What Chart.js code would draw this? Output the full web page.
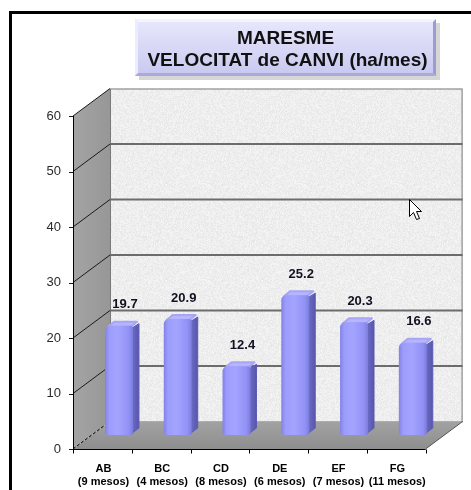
<!DOCTYPE html>
<html>
<head>
<meta charset="utf-8">
<script src="https://cdn.jsdelivr.net/npm/chart.js@4/dist/chart.umd.min.js"></script>
<style>
  html, body { margin: 0; padding: 0; background: #ffffff; }
  canvas { display: block; }
</style>
</head>
<body>
<canvas id="grafic" width="471" height="490"></canvas>
<script>
// Trams del període i durada de cada tram
const trams = ['AB', 'BC', 'CD', 'DE', 'EF', 'FG'];
const durades = ['(9 mesos)', '(4 mesos)', '(8 mesos)', '(6 mesos)', '(7 mesos)', '(11 mesos)'];
// Velocitat de canvi (ha/mes)
const velocitat = [19.7, 20.9, 12.4, 25.2, 20.3, 16.6];
// Marques de l'eix de valors
const valorsEix = [0, 10, 20, 30, 40, 50, 60];
const titol = ['MARESME', 'VELOCITAT de CANVI (ha/mes)'];

const FONT = '"Liberation Sans", Arial, sans-serif';
// Perspectiva: paret del fons i aresta frontal respecte del pla de les barres
const FRONT = { dx: -16.6, dy: 14 };
const BACK = { dx: 20.4, dy: -13.5 };
// Gruix aparent de cada barra
const BAR_DEPTH = { dx: 6, dy: -5 };
const BAR_FRACTION = 0.476;

// Textura granulada de la paret del fons
function granitPattern(ctx) {
  const n = 96;
  const off = document.createElement('canvas');
  off.width = n; off.height = n;
  const o = off.getContext('2d');
  const img = o.createImageData(n, n);
  for (let y = 0; y < n; y++) {
    for (let x = 0; x < n; x++) {
      let h = (x * 374761393 + y * 668265263) | 0;
      h = Math.imul(h ^ (h >>> 13), 1274126177);
      h = (h ^ (h >>> 16)) >>> 0;
      const v = 238 + Math.round(((h & 255) / 255 - 0.5) * 16);
      const i = (y * n + x) * 4;
      img.data[i] = v; img.data[i + 1] = v; img.data[i + 2] = v; img.data[i + 3] = 255;
    }
  }
  o.putImageData(img, 0, 0);
  return ctx.createPattern(off, 'repeat');
}

function poly(ctx, pts, fill, stroke, lw) {
  ctx.beginPath();
  ctx.moveTo(pts[0][0], pts[0][1]);
  for (let i = 1; i < pts.length; i++) ctx.lineTo(pts[i][0], pts[i][1]);
  ctx.closePath();
  if (fill) { ctx.fillStyle = fill; ctx.fill(); }
  if (stroke) { ctx.strokeStyle = stroke; ctx.lineWidth = lw || 1; ctx.stroke(); }
}

const escenari = {
  id: 'escenari',
  beforeDraw(chart) {
    const ctx = chart.ctx;
    ctx.save();
    ctx.fillStyle = '#ffffff';
    ctx.fillRect(0, 0, chart.width, chart.height);
    // marc
    ctx.fillStyle = '#000000';
    ctx.fillRect(9, 11, chart.width - 9, 3);
    ctx.fillRect(9, 11, 3, chart.height - 11);

    // caixa del títol
    const bx = 135, by = 19, bw = 301, bh = 57;
    ctx.fillStyle = 'rgba(0,0,0,0.16)';
    ctx.fillRect(bx + 4, by + 4, bw, bh);
    const g = ctx.createLinearGradient(0, by, 0, by + bh);
    g.addColorStop(0, '#e8e8fc');
    g.addColorStop(1, '#c8c8f0');
    ctx.fillStyle = g;
    ctx.fillRect(bx, by, bw, bh);
    const b = 3;
    poly(ctx, [[bx, by], [bx + bw, by], [bx + bw - b, by + b], [bx + b, by + b]], '#f4f4ff');
    poly(ctx, [[bx, by], [bx + b, by + b], [bx + b, by + bh - b], [bx, by + bh]], '#ececff');
    poly(ctx, [[bx + bw, by], [bx + bw, by + bh], [bx + bw - b, by + bh - b], [bx + bw - b, by + b]], '#9c9cd2');
    poly(ctx, [[bx, by + bh], [bx + bw, by + bh], [bx + bw - b, by + bh - b], [bx + b, by + bh - b]], '#a9a9da');
    ctx.fillStyle = '#111111';
    ctx.font = 'bold 19px ' + FONT;
    ctx.textAlign = 'center';
    ctx.textBaseline = 'middle';
    ctx.fillText(titol[0], bx + bw / 2, 39);
    ctx.fillText(titol[1], bx + bw / 2 + 2, 61);
    ctx.restore();
  },
  beforeDatasetsDraw(chart) {
    const ctx = chart.ctx;
    const ys = chart.scales.y;
    const a = chart.chartArea;
    const top = ys.getPixelForValue(valorsEix[valorsEix.length - 1]);
    const zero = ys.getPixelForValue(0);
    const fl = a.left + FRONT.dx, fr = a.right + FRONT.dx;
    const bl = a.left + BACK.dx, br = a.right + BACK.dx;
    ctx.save();

    // paret del fons
    ctx.fillStyle = granitPattern(ctx);
    ctx.fillRect(bl, top + BACK.dy, br - bl, zero - top);
    ctx.strokeStyle = '#7a7a7a';
    ctx.lineWidth = 1;
    ctx.strokeRect(bl + 0.5, top + BACK.dy + 0.5, br - bl - 1, zero - top);

    // paret lateral
    const lat = ctx.createLinearGradient(fl, 0, bl, 0);
    lat.addColorStop(0, '#a4a4a4');
    lat.addColorStop(1, '#979797');
    poly(ctx, [[fl, top + FRONT.dy], [bl, top + BACK.dy], [bl, zero + BACK.dy], [fl, zero + FRONT.dy]], lat);

    // línies de divisió
    valorsEix.forEach(v => {
      const y = ys.getPixelForValue(v);
      if (v > 0 && v < valorsEix[valorsEix.length - 1]) {
        ctx.strokeStyle = '#6c6c6c';
        ctx.lineWidth = 2;
        ctx.beginPath();
        ctx.moveTo(bl, y + BACK.dy);
        ctx.lineTo(br, y + BACK.dy);
        ctx.stroke();
      }
      ctx.strokeStyle = '#1a1a1a';
      ctx.lineWidth = 1;
      ctx.setLineDash(v === 0 ? [3, 2] : []);
      ctx.beginPath();
      ctx.moveTo(fl, y + FRONT.dy);
      ctx.lineTo(bl, y + BACK.dy);
      ctx.stroke();
      ctx.setLineDash([]);
      // marca a l'eix
      ctx.beginPath();
      ctx.moveTo(fl - 4, Math.round(y + FRONT.dy) + 0.5);
      ctx.lineTo(fl, Math.round(y + FRONT.dy) + 0.5);
      ctx.stroke();
    });

    // terra
    const terra = ctx.createLinearGradient(0, zero + BACK.dy, 0, zero + FRONT.dy);
    terra.addColorStop(0, '#a2a2a2');
    terra.addColorStop(1, '#8e8e8e');
    poly(ctx, [[fl, zero + FRONT.dy], [fr, zero + FRONT.dy], [br, zero + BACK.dy], [bl, zero + BACK.dy]], terra);
    ctx.strokeStyle = '#555555';
    ctx.beginPath();
    ctx.moveTo(fr, zero + FRONT.dy);
    ctx.lineTo(br, zero + BACK.dy);
    ctx.stroke();
    ctx.strokeStyle = '#1a1a1a';
    ctx.setLineDash([3, 2]);
    ctx.beginPath();
    ctx.moveTo(fl, zero + FRONT.dy);
    ctx.lineTo(bl, zero + BACK.dy);
    ctx.stroke();
    ctx.setLineDash([]);

    // eixos frontals
    ctx.strokeStyle = '#000000';
    ctx.lineWidth = 1;
    ctx.beginPath();
    ctx.moveTo(Math.round(fl) + 0.5, top + FRONT.dy);
    ctx.lineTo(Math.round(fl) + 0.5, zero + FRONT.dy);
    ctx.stroke();
    const yb = Math.round(zero + FRONT.dy) + 0.5;
    ctx.beginPath();
    ctx.moveTo(fl, yb);
    ctx.lineTo(fr, yb);
    ctx.stroke();
    const cw = (fr - fl) / trams.length;
    for (let i = 0; i <= trams.length; i++) {
      const x = Math.round(fl + i * cw) + 0.5;
      ctx.beginPath();
      ctx.moveTo(x, yb);
      ctx.lineTo(x, yb + 4);
      ctx.stroke();
    }

    // cares laterals i superiors de les barres
    const meta = chart.getDatasetMeta(0);
    meta.data.forEach(el => {
      const l = el.x - el.width / 2, r = el.x + el.width / 2;
      const t = el.y, bo = el.base;
      const side = ctx.createLinearGradient(r, 0, r + BAR_DEPTH.dx, 0);
      side.addColorStop(0, '#6a6ac4');
      side.addColorStop(1, '#5656aa');
      ctx.lineJoin = 'round';
      poly(ctx, [[r - 2, t + 3], [r + BAR_DEPTH.dx, t + BAR_DEPTH.dy + 3], [r + BAR_DEPTH.dx, bo + BAR_DEPTH.dy - 2], [r - 2, bo - 1]], side, '#5c5cb4', 1);
      poly(ctx, [[l + 3, t + 1], [l + 3 + BAR_DEPTH.dx, t + BAR_DEPTH.dy + 1], [r + BAR_DEPTH.dx - 2, t + BAR_DEPTH.dy + 1], [r - 2, t + 1]], '#b6b6ff', '#a6a6f4', 2);
    });
    ctx.restore();
  },
  afterDatasetsDraw(chart) {
    const ctx = chart.ctx;
    const meta = chart.getDatasetMeta(0);
    ctx.save();
    ctx.fillStyle = '#111122';
    ctx.font = 'bold 13px ' + FONT;
    ctx.textAlign = 'center';
    ctx.textBaseline = 'middle';
    meta.data.forEach((el, i) => {
      ctx.fillText(velocitat[i].toFixed(1), el.x + 6, el.y - 21);
    });

    // punter sobre la paret del fons
    const px = 409.5, py = 199.5;
    poly(ctx, [[px, py], [px, py + 17], [px + 4, py + 13], [px + 7, py + 20], [px + 10, py + 19], [px + 7, py + 12], [px + 12, py + 12]], '#ffffff', '#000000', 1);
    ctx.restore();
  }
};

new Chart(document.getElementById('grafic'), {
  type: 'bar',
  data: {
    labels: trams.map((t, i) => [t, durades[i]]),
    datasets: [{
      data: velocitat,
      categoryPercentage: 1,
      barPercentage: BAR_FRACTION,
      borderSkipped: false,
      borderRadius: { topLeft: 5, topRight: 3, bottomLeft: 3, bottomRight: 2 },
      borderWidth: 0,
      backgroundColor: (c) => {
        const chart = c.chart;
        const xs = chart.scales.x;
        if (!xs || c.type !== 'data' || !chart.chartArea) return '#9999ff';
        const cx = xs.getPixelForValue(c.dataIndex);
        const w = xs.width / trams.length * BAR_FRACTION;
        const g = chart.ctx.createLinearGradient(cx - w / 2, 0, cx + w / 2, 0);
        g.addColorStop(0, '#8282e6');
        g.addColorStop(0.15, '#9c9cfc');
        g.addColorStop(0.45, '#a4a4ff');
        g.addColorStop(0.85, '#9292f6');
        g.addColorStop(1, '#7c7cdc');
        return g;
      }
    }]
  },
  options: {
    responsive: false,
    devicePixelRatio: 1,
    animation: false,
    events: [],
    layout: { padding: { left: 0, right: 28.4, top: 102, bottom: 0 } },
    plugins: {
      legend: { display: false },
      title: { display: false },
      tooltip: { enabled: false }
    },
    scales: {
      x: {
        grid: { display: false, drawTicks: false },
        border: { display: false },
        ticks: {
          autoSkip: false,
          maxRotation: 0,
          padding: 27.4,
          labelOffset: -15.5,
          color: '#000000',
          font: { family: FONT, size: 11, weight: 'bold' }
        },
        afterFit: (s) => { s.height = 55; }
      },
      y: {
        min: 0,
        max: 60,
        grid: { display: false, drawTicks: false },
        border: { display: false },
        ticks: {
          stepSize: 10,
          padding: 28.6,
          labelOffset: 14,
          color: '#2a2a2a',
          font: { family: FONT, size: 13 }
        },
        afterFit: (s) => { s.width = 89.6; }
      }
    }
  },
  plugins: [escenari]
});
</script>
</body>
</html>
